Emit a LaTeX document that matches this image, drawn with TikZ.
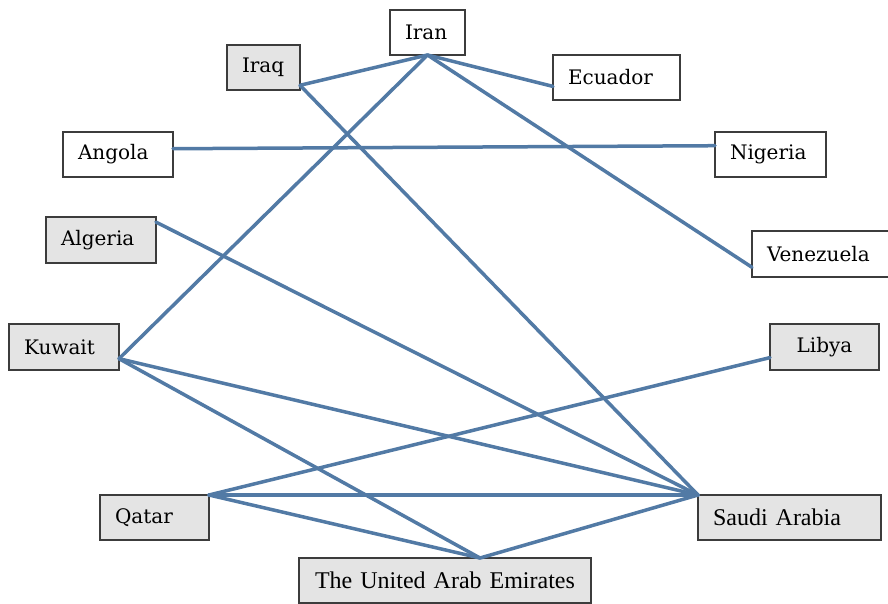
\documentclass[tikz,border=0pt]{standalone}
\usepackage{fontspec}
\setmainfont{DejaVu Serif}
\newfontfamily\timesfont{Liberation Serif}
\usetikzlibrary{calc}
\definecolor{linkblue}{RGB}{82,122,165}
\definecolor{boxgrey}{RGB}{228,228,228}
\definecolor{boxline}{RGB}{60,60,60}

\begin{document}
\begin{tikzpicture}[x=1pt,y=-1pt,every node/.style={block},
  block/.style={draw=boxline,line width=1.4pt,rectangle,anchor=north west,inner xsep=15pt,inner ysep=0pt,outer sep=0pt,align=left,minimum height=45pt,font=\fontsize{20}{24}\selectfont},
  shaded/.style={fill=boxgrey},
  plain/.style={fill=white},
  times/.style={font=\timesfont\fontsize{24}{28}\selectfont},
  link/.style={linkblue,line width=3.5pt,line cap=round}]

        \useasboundingbox (0,0) rectangle (888,604);

        \node (Iran) [plain,text width=45pt] at (390,10) {Iran};
        \node (Iraq) [shaded,text width=43pt] at (227,45) {Iraq};
        \node (Ecuador) [plain,text width=97pt] at (553,55) {Ecuador};
        \node (Angola) [plain,text width=80pt] at (63,132) {Angola};
        \node (Nigeria) [plain,text width=81pt] at (715,132) {Nigeria};
        \node (Algeria) [shaded,text width=80pt,minimum height=46pt] at (46,217) {Algeria};
        \node (Venezuela) [plain,text width=107pt,minimum height=46pt] at (752,231) {Venezuela};
        \node (Kuwait) [shaded,text width=80pt,minimum height=46pt] at (9,324) {Kuwait};
        \node (Libya) [shaded,text width=79pt,minimum height=46pt,align=center] at (770,324) {Libya};
        \node (Qatar) [shaded,text width=79pt] at (100,495) {Qatar};
        \node (Saudi) [shaded,times,text width=153pt] at (698,495) {Saudi Arabia};
        \node (UAE) [shaded,times,text width=262pt,align=center] at (299,558) {The United Arab Emirates};

        \coordinate (UAEtop) at ($(UAE.north)+(35,0)$);

        \draw[link] (Iran.south) -- (Iraq.-26);
        \draw[link] (Iran.south) -- (Ecuador.188);
        \draw[link] (Iran.south) -- (Kuwait.-12);
        \draw[link] (Iran.south) -- (Venezuela.191);
        \draw[link] (Angola.6) -- (Nigeria.171);
        \draw[link] (Iraq.-26) -- (Saudi.north west);
        \draw[link] (Algeria.18) -- (Saudi.north west);
        \draw[link] (Kuwait.-12) -- (Saudi.north west);
        \draw[link] (Kuwait.-12) -- (UAEtop);
        \draw[link] (Qatar.north east) -- (Libya.191);
        \draw[link] (Qatar.north east) -- (Saudi.north west);
        \draw[link] (Qatar.north east) -- (UAEtop);
        \draw[link] (UAEtop) -- (Saudi.north west);
      \end{tikzpicture}
\end{document}
